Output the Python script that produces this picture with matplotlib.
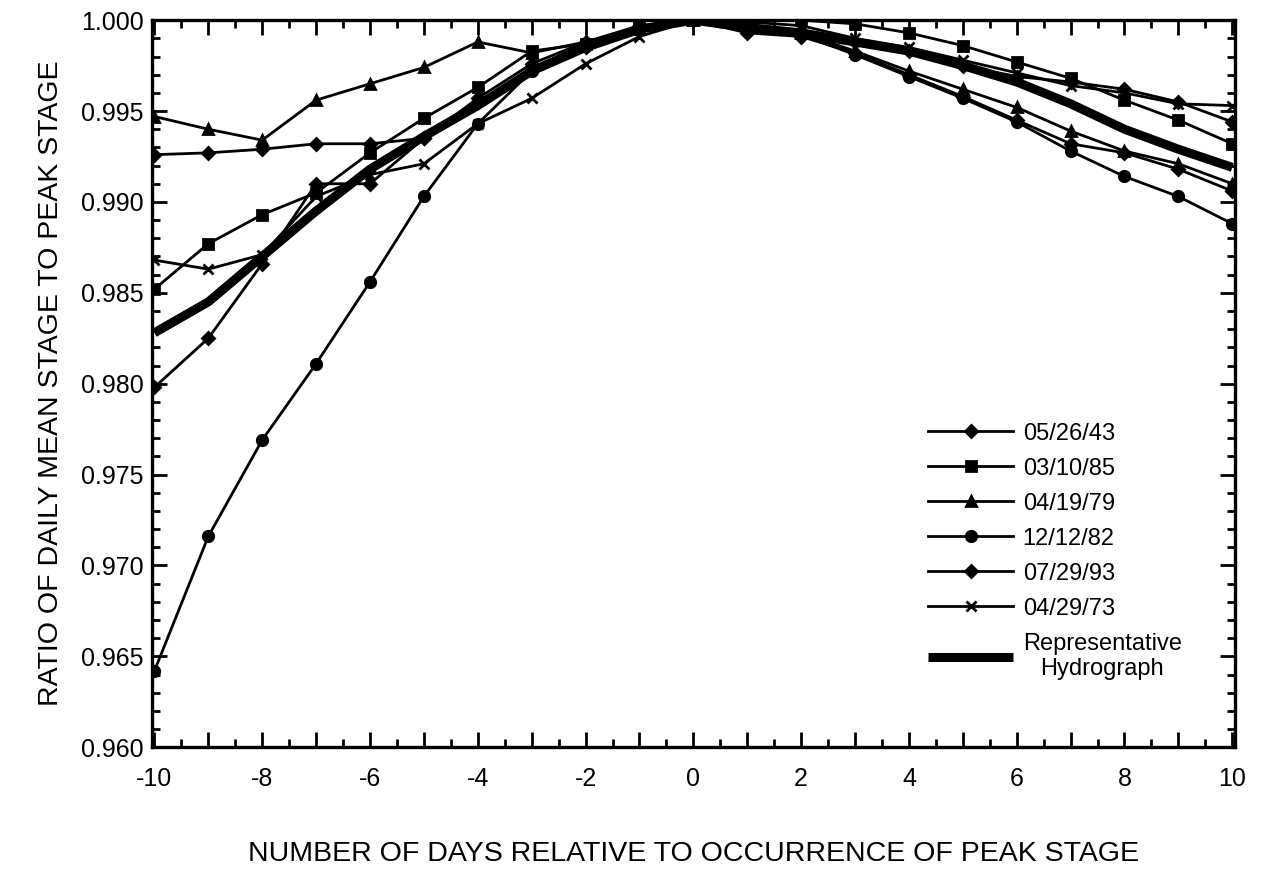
import matplotlib
matplotlib.use("Agg")
import matplotlib.pyplot as plt
from matplotlib.ticker import MultipleLocator, FuncFormatter

days = list(range(-10, 11))

s_052643 = [0.9926, 0.9927, 0.9929, 0.9932, 0.9932, 0.9935, 0.9957, 0.9976, 0.9988, 0.9997, 1.0,
            0.9995, 0.9994, 0.9988, 0.9983, 0.9975, 0.9969, 0.9966, 0.9962, 0.9955, 0.9944]
s_031085 = [0.9852, 0.9877, 0.9893, 0.9905, 0.9927, 0.9946, 0.9963, 0.9983, 0.9987, 0.9996, 1.0,
            1.0, 1.0, 0.9998, 0.9993, 0.9986, 0.9977, 0.9968, 0.9956, 0.9945, 0.9932]
s_041979 = [0.9947, 0.9940, 0.9934, 0.9956, 0.9965, 0.9974, 0.9988, 0.9982, 0.9988, 0.9995, 1.0,
            0.9996, 0.9993, 0.9983, 0.9972, 0.9962, 0.9952, 0.9939, 0.9928, 0.9921, 0.9910]
s_121282 = [0.9642, 0.9716, 0.9769, 0.9811, 0.9856, 0.9903, 0.9943, 0.9972, 0.9986, 0.9996, 1.0,
            0.9994, 0.9992, 0.9981, 0.9969, 0.9957, 0.9944, 0.9928, 0.9914, 0.9903, 0.9888]
s_072993 = [0.9798, 0.9825, 0.9866, 0.9910, 0.9910, 0.9935, 0.9955, 0.9973, 0.9985, 0.9995, 1.0,
            0.9993, 0.9991, 0.9982, 0.9970, 0.9958, 0.9945, 0.9932, 0.9927, 0.9918, 0.9906]
s_042973 = [0.9868, 0.9863, 0.9871, 0.9903, 0.9915, 0.9921, 0.9943, 0.9957, 0.9976, 0.9991, 1.0,
            0.9999, 0.9997, 0.9990, 0.9985, 0.9978, 0.9971, 0.9964, 0.9960, 0.9954, 0.9953]
s_rep = [0.9828, 0.9845, 0.9870, 0.9895, 0.9918, 0.9936, 0.9953, 0.9972, 0.9985, 0.9995, 1.0,
         0.9996, 0.9993, 0.9988, 0.9983, 0.9975, 0.9966, 0.9954, 0.9940, 0.9929, 0.9919]

events = [
    ("05/26/43", s_052643, "D"),
    ("03/10/85", s_031085, "s"),
    ("04/19/79", s_041979, "^"),
    ("12/12/82", s_121282, "o"),
    ("07/29/93", s_072993, "D"),
    ("04/29/73", s_042973, "x"),
]

font = ["Liberation Sans", "DejaVu Sans"]
plt.rcParams["font.family"] = font

fig = plt.figure(figsize=(12.75, 8.77), dpi=100)
ax = fig.add_axes([0.119, 0.148, 0.8496, 0.829])

for name, vals, mk in events:
    ms = 6.5 if mk == "D" else 7.5
    ax.plot(days, vals, color="black", lw=2, marker=mk, ms=ms, mew=2, label=name)
ax.plot(days, s_rep, color="black", lw=6.5, solid_capstyle="butt",
        label="Representative\nHydrograph")

ax.set_xlim(-10.05, 10.05)
ax.set_ylim(0.960, 1.000)
ax.xaxis.set_major_locator(MultipleLocator(1))
ax.xaxis.set_minor_locator(MultipleLocator(0.5))
ax.xaxis.set_major_formatter(FuncFormatter(lambda v, p: "%d" % round(v) if round(v) % 2 == 0 else ""))
ax.yaxis.set_major_locator(MultipleLocator(0.005))
ax.yaxis.set_minor_locator(MultipleLocator(0.001))
ax.yaxis.set_major_formatter(FuncFormatter(lambda v, p: "%.3f" % v))
ax.tick_params(which="both", direction="in", top=True, right=True, width=2)
ax.tick_params(which="major", length=11, labelsize=18)
ax.tick_params(axis="x", which="major", pad=14)
ax.tick_params(axis="y", which="major", pad=6)
ax.tick_params(which="minor", length=6)
for sp in ax.spines.values():
    sp.set_linewidth(2.4)

ax.set_xlabel("NUMBER OF DAYS RELATIVE TO OCCURRENCE OF PEAK STAGE",
              fontsize=20.5, labelpad=36)
ax.set_ylabel("RATIO OF DAILY MEAN STAGE TO PEAK STAGE",
              fontsize=20.5, labelpad=12)

leg = ax.legend(loc="upper left", bbox_to_anchor=(0.728, 0.518),
                bbox_transform=fig.transFigure, frameon=False, handlelength=3.6,
                handletextpad=0.4, labelspacing=0.55, borderaxespad=0, borderpad=0,
                prop={"size": 17})
leg.get_texts()[-1].set_multialignment("center")

fig.savefig("out.png", dpi=100)
